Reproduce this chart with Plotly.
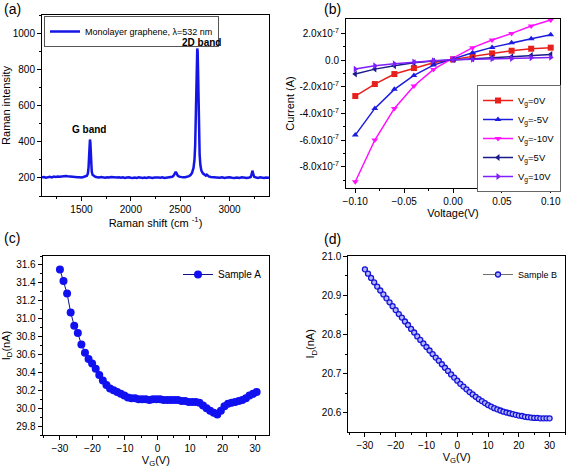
import plotly.graph_objects as go

# ---------------- Panel (a): Raman spectrum ----------------
raman_shift = [1100, 1120, 1140, 1160, 1180, 1200, 1220, 1240, 1260, 1280, 1300, 1320, 1340, 1360, 1380,
               1400, 1420, 1440, 1460, 1480, 1500, 1520, 1540,
               1555, 1565, 1572, 1578, 1582, 1586, 1590, 1594, 1598, 1604, 1612, 1625, 1640,
               1660, 1680, 1700, 1720, 1740, 1760, 1780, 1800, 1820, 1840, 1860, 1880, 1900, 1920, 1940,
               1960, 1980, 2000, 2020, 2040, 2060, 2080, 2100, 2120, 2140, 2160, 2180, 2200, 2220, 2240,
               2260, 2280, 2300, 2320, 2340, 2360, 2380, 2400,
               2420, 2435, 2447, 2455, 2463, 2475, 2490, 2510, 2530, 2550, 2570, 2590, 2605, 2620, 2635,
               2645, 2652, 2658, 2663, 2668, 2673, 2677, 2681, 2686, 2691, 2697, 2705, 2715, 2730, 2745,
               2760, 2770, 2778, 2790, 2810, 2830,
               2850, 2875, 2900, 2925, 2950, 2975, 3000, 3025, 3050, 3075, 3100, 3125, 3150, 3175, 3200,
               3215, 3225, 3232, 3240, 3250, 3270, 3290, 3310, 3330, 3350, 3370, 3390, 3400]
raman_int = [203, 205, 201, 204, 206, 203, 207, 205, 208, 206, 209, 210, 211, 209, 207,
             206, 204, 205, 203, 204, 202, 205, 207,
             212, 225, 260, 330, 390, 412, 395, 340, 275, 235, 217, 209, 206,
             204, 202, 205, 203, 201, 204, 202, 205, 203, 200, 202, 204, 201, 203, 200,
             202, 204, 201, 199, 202, 200, 203, 201, 199, 202, 200, 203, 201, 199, 202,
             200, 202, 201, 203, 200, 202, 204, 203,
             206, 214, 228, 234, 226, 213, 207, 204, 203, 204, 206, 210, 216, 228, 255,
             300, 380, 500, 650, 800, 915, 900, 800, 620, 450, 330, 270, 240, 225, 217,
             213, 218, 212, 208, 205, 204,
             202, 204, 201, 203, 200, 202, 204, 201, 199, 202, 200, 203, 201, 199, 202,
             205, 222, 240, 222, 206, 202, 200, 203, 201, 199, 202, 200, 201]

# ---------------- Panel (b): I-V curves ----------------
voltage = [-0.10, -0.08, -0.06, -0.04, -0.02, 0.00, 0.02, 0.04, 0.06, 0.08, 0.10]
iv_labels = ["V<sub>g</sub>=0V", "V<sub>g</sub>=-5V", "V<sub>g</sub>=-10V", "V<sub>g</sub>=5V", "V<sub>g</sub>=10V"]
i_vg0 = [-2.70e-7, -1.80e-7, -1.05e-7, -0.60e-7, -0.20e-7, 0.05e-7, 0.30e-7, 0.50e-7, 0.70e-7, 0.85e-7, 0.93e-7]
i_vgm5 = [-5.63e-7, -3.63e-7, -2.20e-7, -1.15e-7, -0.38e-7, 0.08e-7, 0.55e-7, 0.95e-7, 1.30e-7, 1.60e-7, 1.90e-7]
i_vgm10 = [-9.13e-7, -6.00e-7, -3.63e-7, -1.95e-7, -0.70e-7, 0.15e-7, 0.93e-7, 1.50e-7, 2.00e-7, 2.55e-7, 3.00e-7]
i_vg5 = [-1.05e-7, -0.68e-7, -0.43e-7, -0.20e-7, -0.08e-7, 0.02e-7, 0.10e-7, 0.18e-7, 0.25e-7, 0.35e-7, 0.42e-7]
i_vg10 = [-0.68e-7, -0.43e-7, -0.28e-7, -0.15e-7, -0.05e-7, 0.02e-7, 0.05e-7, 0.10e-7, 0.12e-7, 0.17e-7, 0.20e-7]
iv_colors = ["#e8201c", "#1c1ce0", "#ff10ff", "#1a1a8a", "#7f1fff"]
iv_symbols = ["square", "triangle-up", "triangle-down", "triangle-left", "triangle-right"]

# ---------------- Panel (c): Sample A ----------------
vg_a = [-30.0, -28.9, -27.8, -26.7, -25.6, -24.5, -23.4, -22.3, -21.2, -20.1, -19.0, -17.9, -16.8, -15.7,
        -14.6, -13.5, -12.4, -11.3, -10.2, -9.1, -8.0, -6.9, -5.8, -4.7, -3.6, -2.5, -1.4, -0.3, 0.8,
        1.9, 3.0, 4.1, 5.2, 6.3, 7.4, 8.5, 9.6, 10.7, 11.8, 12.9, 14.0, 15.1, 16.2, 17.3, 18.4, 19.5,
        20.6, 21.7, 22.8, 23.9, 25.0, 26.1, 27.2, 28.3, 29.4, 30.5]
id_a = [31.55, 31.42, 31.28, 31.07, 30.92, 30.84, 30.71, 30.62, 30.55, 30.50, 30.44, 30.37, 30.31, 30.26,
        30.22, 30.20, 30.18, 30.16, 30.14, 30.12, 30.11, 30.11, 30.10, 30.10, 30.10, 30.09, 30.10, 30.10, 30.10,
        30.09, 30.09, 30.09, 30.09, 30.09, 30.08, 30.08, 30.07, 30.07, 30.07, 30.06, 30.03, 30.00, 29.97, 29.95,
        29.93, 29.97, 30.02, 30.05, 30.06, 30.07, 30.08, 30.09, 30.11, 30.14, 30.16, 30.18]

# ---------------- Panel (d): Sample B ----------------
vg_b = [-30, -29, -28, -27, -26, -25, -24, -23, -22, -21, -20, -19, -18, -17, -16, -15, -14, -13, -12, -11,
        -10, -9, -8, -7, -6, -5, -4, -3, -2, -1, 0, 1, 2, 3, 4, 5, 6, 7, 8, 9, 10, 11, 12, 13, 14, 15,
        16, 17, 18, 19, 20, 21, 22, 23, 24, 25, 26, 27, 28, 29, 30]
id_b = [20.966, 20.955, 20.944, 20.933, 20.922, 20.912, 20.902, 20.892, 20.882, 20.872, 20.862, 20.852,
        20.843, 20.833, 20.824, 20.814, 20.805, 20.795, 20.786, 20.777, 20.768, 20.759, 20.750, 20.741,
        20.733, 20.724, 20.715, 20.707, 20.698, 20.690, 20.682, 20.674, 20.667, 20.660, 20.653, 20.647,
        20.641, 20.635, 20.630, 20.625, 20.620, 20.616, 20.612, 20.609, 20.606, 20.603, 20.601, 20.599,
        20.597, 20.595, 20.593, 20.592, 20.590, 20.589, 20.588, 20.587, 20.587, 20.586, 20.586, 20.586, 20.586]

FONT = "Liberation Sans, Arial, sans-serif"
W, H = 567, 468

fig = go.Figure()

fig.add_trace(go.Scatter(x=raman_shift, y=raman_int, mode="lines",
                         line=dict(color="#1515e6", width=2.5),
                         name="Monolayer graphene, λ=532 nm", showlegend=True,
                         xaxis="x", yaxis="y", legend="legend"))

for lab, vals, col, sym in zip(iv_labels, [i_vg0, i_vgm5, i_vgm10, i_vg5, i_vg10], iv_colors, iv_symbols):
    fig.add_trace(go.Scatter(x=voltage, y=vals, mode="lines+markers", name=lab,
                             line=dict(color=col, width=1.5),
                             marker=dict(symbol=sym, size=6, color=col),
                             xaxis="x2", yaxis="y2", legend="legend2"))

fig.add_trace(go.Scatter(x=vg_a, y=id_a, mode="lines+markers", name="Sample A",
                         line=dict(color="#10108a", width=1),
                         marker=dict(symbol="circle", size=8, color="#1010f0"),
                         xaxis="x3", yaxis="y3", legend="legend3"))

fig.add_trace(go.Scatter(x=vg_b, y=id_b, mode="lines+markers", name="Sample B",
                         line=dict(color="#707070", width=1),
                         marker=dict(symbol="circle", size=5, color="#b4b4ff",
                                     line=dict(color="#1515d8", width=1.3)),
                         xaxis="x4", yaxis="y4", legend="legend4"))


def px_dom_x(a, b):
    return [a / W, b / W]


def px_dom_y(top, bottom):
    return [1 - bottom / H, 1 - top / H]


def ax(domain, rng, anchor, dtick=None, tick0=None, minor_dtick=None, title=None, standoff=4, **kw):
    d = dict(domain=domain, range=rng, anchor=anchor, showline=True, linecolor="black", linewidth=1,
             mirror=True, ticks="outside", ticklen=4, tickcolor="black", showgrid=False, zeroline=False,
             automargin=False,
             tickfont=dict(family=FONT, size=10, color="black"),
             title=dict(text=title, font=dict(family=FONT, size=11, color="black"), standoff=standoff))
    if dtick is not None:
        d["dtick"] = dtick
        d["tick0"] = tick0
    if minor_dtick is not None:
        d["minor"] = dict(ticks="outside", ticklen=2, tickcolor="black", dtick=minor_dtick, showgrid=False)
    d.update(kw)
    return d


b_ticks = [2e-7, 0, -2e-7, -4e-7, -6e-7, -8e-7]
b_text = ["2.0x10<sup>-7</sup>", "0.0", "-2.0x10<sup>-7</sup>", "-4.0x10<sup>-7</sup>",
          "-6.0x10<sup>-7</sup>", "-8.0x10<sup>-7</sup>"]

fig.update_layout(
    width=W, height=H, margin=dict(l=0, r=0, t=0, b=0, autoexpand=False),
    paper_bgcolor="white", plot_bgcolor="white", showlegend=True,
    font=dict(family=FONT, color="black"),
    xaxis=ax(px_dom_x(42, 269), [1100, 3400], "y", dtick=500, tick0=0, minor_dtick=250,
             title="Raman shift (cm <sup>-1</sup>)", standoff=3),
    yaxis=ax(px_dom_y(15, 196), [100, 1100], "x", dtick=200, tick0=0, minor_dtick=100,
             title="Raman intensity", standoff=4),
    xaxis2=ax(px_dom_x(346, 560), [-0.1095, 0.1095], "y2", dtick=0.05, tick0=0, minor_dtick=0.025,
              title="Voltage(V)", standoff=2, tickformat=".2f"),
    yaxis2=ax(px_dom_y(19, 188), [-9.6e-7, 3.08e-7], "x2", title="Current (A)", standoff=2,
              tickvals=b_ticks, ticktext=b_text,
              minor=dict(ticks="outside", ticklen=2, tickcolor="black", tickvals=[1e-7, -1e-7, -3e-7, -5e-7, -7e-7, -9e-7])),
    xaxis3=ax(px_dom_x(42.7, 269), [-35.3, 34.3], "y3", dtick=10, tick0=0, minor_dtick=5,
              title="V<sub>G</sub>(V)", standoff=3),
    yaxis3=ax(px_dom_y(256, 435), [29.7, 31.7], "x3", dtick=0.2, tick0=0, minor_dtick=0.1,
              title="I<sub>D</sub>(nA)", standoff=4, tickformat=".1f"),
    xaxis4=ax(px_dom_x(348.3, 565), [-35.4, 35], "y4", dtick=10, tick0=0, minor_dtick=5,
              title="V<sub>G</sub>(V)", standoff=3),
    yaxis4=ax(px_dom_y(256, 431.7), [20.552, 21.0], "x4", dtick=0.1, tick0=0, minor_dtick=0.05,
              title="I<sub>D</sub>(nA)", standoff=4, tickformat=".1f"),
    legend=dict(x=44 / W, y=1 - 16 / H, xanchor="left", yanchor="top", bgcolor="white",
                bordercolor="#555", borderwidth=1, font=dict(family=FONT, size=9, color="black"),
                itemwidth=30, tracegroupgap=0, visible=True),
    legend2=dict(x=477 / W, y=1 - 85 / H, xanchor="left", yanchor="top", bgcolor="white",
                 bordercolor="#666", borderwidth=1, font=dict(family=FONT, size=9.5, color="black"),
                 itemwidth=30, tracegroupgap=0),
    legend3=dict(x=178 / W, y=1 - 260 / H, xanchor="left", yanchor="top", bgcolor="rgba(0,0,0,0)",
                 font=dict(family=FONT, size=10, color="black"), itemwidth=30),
    legend4=dict(x=478 / W, y=1 - 260 / H, xanchor="left", yanchor="top", bgcolor="rgba(0,0,0,0)",
                 font=dict(family=FONT, size=9, color="black"), itemwidth=30),
    annotations=[
        dict(text="<b>G band</b>", x=1580, y=470, xref="x", yref="y", showarrow=False,
             font=dict(family=FONT, size=10, color="black"), xanchor="center", yanchor="middle"),
        dict(text="<b>2D band</b>", x=2720, y=950, xref="x", yref="y", showarrow=False,
             font=dict(family=FONT, size=10, color="black"), xanchor="center", yanchor="middle"),
        dict(text="(a)", x=2 / W, y=1 - 9 / H, xref="paper", yref="paper", showarrow=False,
             font=dict(family=FONT, size=14, color="black"), xanchor="left", yanchor="middle"),
        dict(text="(b)", x=322 / W, y=1 - 9 / H, xref="paper", yref="paper", showarrow=False,
             font=dict(family=FONT, size=14, color="black"), xanchor="left", yanchor="middle"),
        dict(text="(c)", x=2 / W, y=1 - 238 / H, xref="paper", yref="paper", showarrow=False,
             font=dict(family=FONT, size=14, color="black"), xanchor="left", yanchor="middle"),
        dict(text="(d)", x=322 / W, y=1 - 239 / H, xref="paper", yref="paper", showarrow=False,
             font=dict(family=FONT, size=14, color="black"), xanchor="left", yanchor="middle"),
    ],
)

fig.write_html("out.html", config={"displayModeBar": False},
               post_script="document.body.style.margin='0px';")
